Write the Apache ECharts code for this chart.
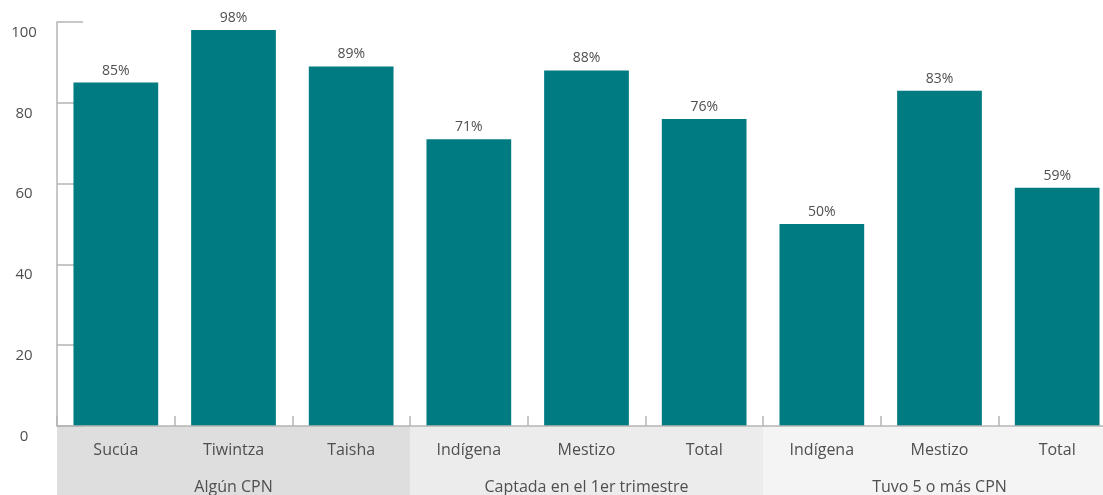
<!DOCTYPE html>
<html>
<head>
<meta charset="utf-8">
<script src="https://cdn.jsdelivr.net/npm/echarts@6/dist/echarts.min.js"></script>
<style>
  html, body { margin: 0; padding: 0; background: #fff; }
  #chart { width: 1103px; height: 495px; }
</style>
</head>
<body>
<div id="chart"></div>
<script>
// Categories, their groups and the percentage for each bar
const categories = ['Sucúa', 'Tiwintza', 'Taisha', 'Indígena', 'Mestizo', 'Total', 'Indígena', 'Mestizo', 'Total'];
const groups = ['Algún CPN', 'Captada en el 1er trimestre', 'Tuvo 5 o más CPN'];
const values = [85, 98, 89, 71, 88, 76, 50, 83, 59];
const yTicks = [0, 20, 40, 60, 80, 100];

const FONT = '"Open Sans", "Noto Sans", sans-serif';
const TEXT = '#4f4f4f';
const AXIS = '#b5b5b5';

const chart = echarts.init(document.getElementById('chart'), null, { renderer: 'canvas' });

// The plot runs slightly past the right edge of the canvas, so the grid width is fixed
chart.setOption({
  animation: false,
  textStyle: { fontFamily: FONT },
  grid: [
    { left: 57, width: 1059, top: 22, bottom: 69, outerBoundsMode: 'none' },
    { left: 57, width: 1059, top: 426, bottom: 0, outerBoundsMode: 'none' }
  ],
  xAxis: [
    {
      type: 'category',
      gridIndex: 0,
      data: categories,
      z: 3,
      boundaryGap: true,
      axisLine: { show: true, lineStyle: { color: AXIS, width: 1.5 } },
      axisTick: { show: true, inside: true, length: 10, interval: 0, lineStyle: { color: AXIS, width: 1.5 } },
      axisLabel: { interval: 0, margin: 16, color: TEXT, fontSize: 16, fontFamily: FONT }
    },
    {
      type: 'category',
      gridIndex: 1,
      position: 'top',
      data: groups,
      z: 0,
      axisLine: { show: false },
      axisTick: { show: false },
      axisLabel: { inside: true, interval: 0, margin: 53, color: TEXT, fontSize: 16, fontFamily: FONT, verticalAlign: 'top' },
      splitArea: { show: true, interval: 0, areaStyle: { color: ['#dedede', '#ececec', '#f4f4f4'] } },
      splitLine: { show: false }
    }
  ],
  yAxis: [
    {
      type: 'value',
      gridIndex: 0,
      min: yTicks[0],
      max: yTicks[yTicks.length - 1],
      interval: yTicks[1] - yTicks[0],
      axisLine: { show: true, lineStyle: { color: AXIS, width: 1.5 } },
      axisTick: { show: true, inside: true, length: 26, lineStyle: { color: AXIS, width: 1.5 } },
      splitLine: { show: false },
      axisLabel: { margin: 33, align: 'center', verticalAlign: 'top', padding: [3, 0, 0, 0], color: TEXT, fontSize: 15, fontFamily: FONT }
    },
    {
      type: 'value',
      gridIndex: 1,
      show: false
    }
  ],
  series: [
    {
      type: 'bar',
      xAxisIndex: 0,
      yAxisIndex: 0,
      data: values,
      barWidth: '72%',
      itemStyle: { color: '#007b82' },
      label: {
        show: true,
        position: 'top',
        distance: 5,
        formatter: p => p.value + '%',
        color: TEXT,
        fontSize: 14,
        fontFamily: FONT
      }
    }
  ]
});
</script>
</body>
</html>
